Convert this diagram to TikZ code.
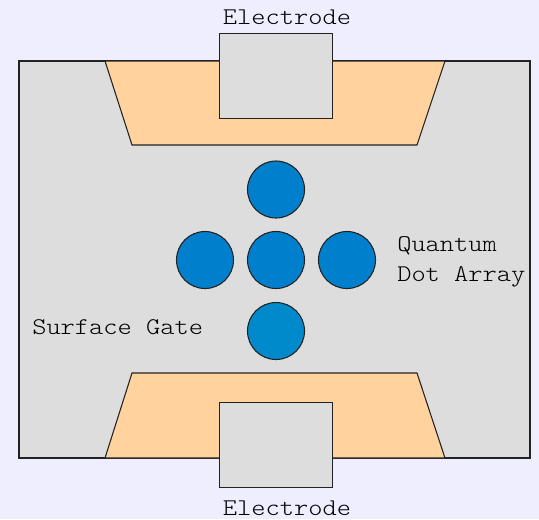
\documentclass[tikz,border=0pt]{standalone}
\usepackage{fontspec}
\newfontfamily\cour[FakeStretch=1.13]{Latin Modern Mono Light}
\definecolor{bgc}{HTML}{EEEEFF}
\definecolor{gatec}{HTML}{DDDDDD}
\definecolor{oxc}{HTML}{FFD29E}
\definecolor{dotc}{HTML}{0080CC}
\definecolor{dotd}{HTML}{008ACC}
\definecolor{linec}{HTML}{222222}
\begin{document}
\begin{tikzpicture}[x=0.75pt,y=-0.75pt,
  shapeline/.style={draw=linec,line width=0.8pt},
  dot/.style={circle,shapeline,fill=dotc,minimum size=57*0.75pt,inner sep=0pt},
  lbl/.style={font=\cour\fontsize{18}{22.5}\selectfont,text=black,inner sep=0pt}]
\fill[bgc] (0,0) rectangle (539,519);
\useasboundingbox (0,0) rectangle (539,519);
% surface gate
\draw[shapeline,fill=gatec] (19,61) rectangle (530,458);
% trapezoids
\draw[shapeline,fill=oxc] (105,61) -- (445,61) -- (417,145) -- (132,145) -- cycle;
\draw[shapeline,fill=oxc] (132,373) -- (417,373) -- (445,458) -- (105,458) -- cycle;
% electrodes
\node[shapeline,fill=gatec,minimum width=113*0.75pt,minimum height=85*0.75pt,inner sep=0pt,anchor=north west] (etop) at (219,33) {};
\node[shapeline,fill=gatec,minimum width=113*0.75pt,minimum height=85*0.75pt,inner sep=0pt,anchor=north west] (ebot) at (219,402) {};
% dots
\node[dot] (d1) at (276,189.5) {};
\node[dot] (d2) at (205,260) {};
\node[dot] (d3) at (276,260) {};
\node[dot] (d4) at (347,260) {};
\node[dot,fill=dotd] (d5) at (276,331) {};
% labels
\node[lbl] (lt) at (287,17) {Electrode};
\node[lbl] (lb) at (287,508) {Electrode};
\node[lbl,anchor=west,align=left] (lq) at (397,262) {Quantum\\Dot Array};
\node[lbl,anchor=west] (ls) at (32,327) {Surface Gate};
\end{tikzpicture}
\end{document}
